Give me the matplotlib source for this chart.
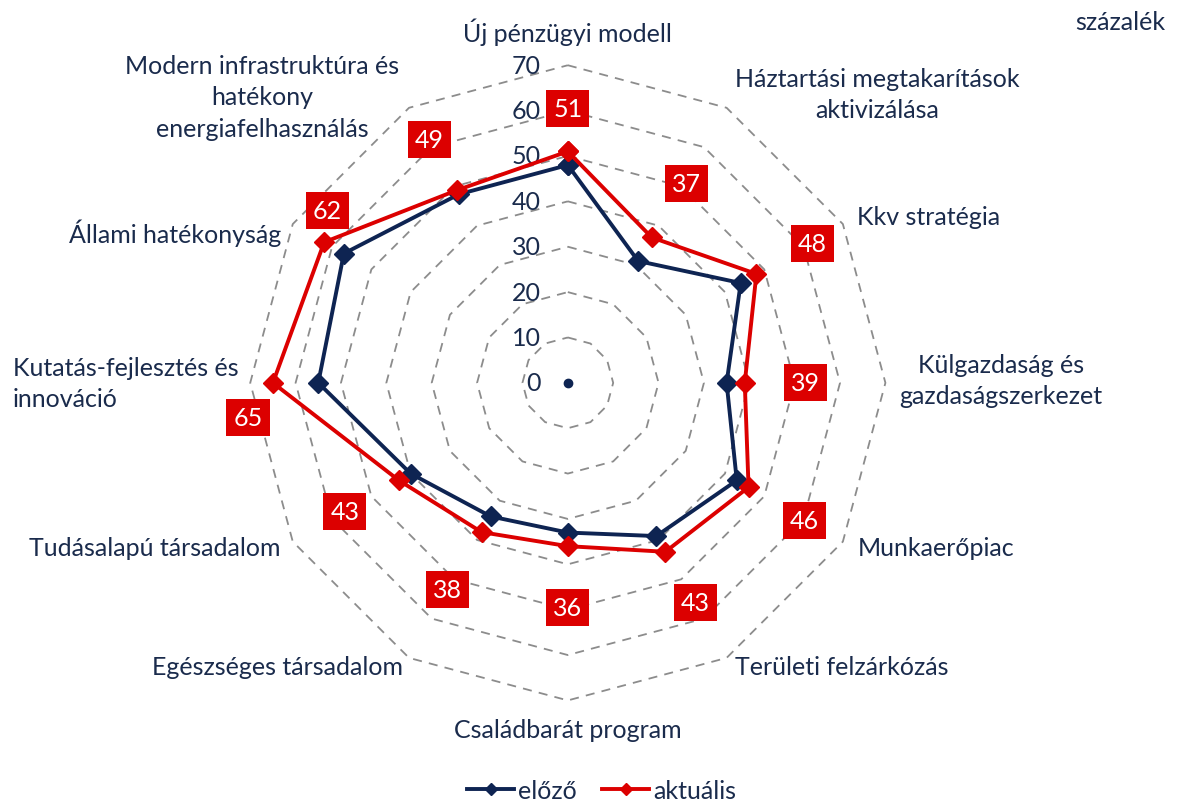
import matplotlib
matplotlib.use("Agg")
import matplotlib.pyplot as plt
import numpy as np

categories = [
    "Új pénzügyi modell",
    "Háztartási megtakarítások\naktivizálása",
    "Kkv stratégia",
    "Külgazdaság és\ngazdaságszerkezet",
    "Munkaerőpiac",
    "Területi felzárkózás",
    "Családbarát program",
    "Egészséges társadalom",
    "Tudásalapú társadalom",
    "Kutatás-fejlesztés és\ninnováció",
    "Állami hatékonyság",
    "Modern infrastruktúra és\nhatékony\nenergiafelhasználás",
]
elozo = [48, 31, 44, 35, 43, 39, 33, 34, 40, 55, 57, 48]
aktualis = [51, 37, 48, 39, 46, 43, 36, 38, 43, 65, 62, 49]
ticks = [0, 10, 20, 30, 40, 50, 60, 70]

NAVY = "#0E2452"
RED = "#DC0000"
TEXT = "#1A2B4C"
FS = 18
plt.rcParams["font.family"] = ["Lato", "DejaVu Sans"]

# label placement (offset pixels from outer vertex, alignment)
cat_style = [
    ((0, 34), "center", "center"),
    ((8, 14), "left", "center"),
    ((14, 8), "left", "center"),
    ((14, 3), "left", "center"),
    ((15, -6), "left", "center"),
    ((8, -9), "left", "center"),
    ((0, -29), "center", "center"),
    ((-6, -9), "right", "center"),
    ((-12, -6), "right", "center"),
    ((-12, 0), "right", "center"),
    ((-12, -8), "right", "center"),
    ((-147, 11), "center", "center"),
]
cat_multi = ["center"] * 9 + ["left", "center", "center"]
# data label offsets in pixels from the aktualis point
lab_off = [(0, 43), (35, 54), (56, 30), (61, 0), (56, -33), (30, -51),
           (0, -61), (-34, -57), (-54, -31), (-25, -35), (3, 32), (-27, 51)]

n = len(categories)
theta = np.linspace(0, 2 * np.pi, n, endpoint=False)
theta_c = np.append(theta, theta[0])

fig = plt.figure(figsize=(12.03, 8.03), dpi=100)
ax = fig.add_axes([0.208, 0.126, 0.528, 0.792], projection="polar")
ax.set_theta_zero_location("N")
ax.set_theta_direction(-1)
ax.set_ylim(0, 70)
ax.grid(False)
ax.spines["polar"].set_visible(False)
ax.set_xticks([])
ax.set_yticks([])

for t in ticks[1:]:
    ax.plot(theta_c, [t] * (n + 1), color="#8C8C8C", lw=1.3, ls=(0, (5, 4)), zorder=1, clip_on=False)
for t in ticks:
    ax.annotate(str(t), xy=(0, t), xytext=(-27, 0), textcoords="offset pixels",
                ha="right", va="center", fontsize=FS, color=TEXT)

ax.plot(theta_c, elozo + elozo[:1], color=NAVY, lw=2.8, marker="D", ms=10, zorder=3, label="előző", clip_on=False)
ax.plot(theta_c, aktualis + aktualis[:1], color=RED, lw=2.8, marker="D", ms=10, zorder=4, label="aktuális", clip_on=False)
ax.plot([0], [0], "o", color=NAVY, ms=6, zorder=5)

for i, (lab, (off, ha, va)) in enumerate(zip(categories, cat_style)):
    ax.annotate(lab, xy=(theta[i], 70), xytext=off, textcoords="offset pixels",
                ha=ha, va=va, multialignment=cat_multi[i], fontsize=FS, color=TEXT,
                linespacing=1.45, annotation_clip=False)

for i, v in enumerate(aktualis):
    ax.annotate(str(v), xy=(theta[i], v), xytext=lab_off[i], textcoords="offset pixels",
                ha="center", va="center", fontsize=FS, color="white", zorder=6,
                bbox=dict(boxstyle="square,pad=0.28", fc=RED, ec="none"), annotation_clip=False)

fig.text(0.931, 0.972, "százalék", ha="center", va="center", fontsize=FS, color=TEXT)
leg = fig.legend(loc="lower center", bbox_to_anchor=(0.5, -0.028), ncol=2, frameon=False,
                 fontsize=FS, handlelength=1.9, handletextpad=0.15, columnspacing=1.0,
                 markerscale=0.65)
for txt in leg.get_texts():
    txt.set_color(TEXT)

fig.savefig("out.png", dpi=100)
